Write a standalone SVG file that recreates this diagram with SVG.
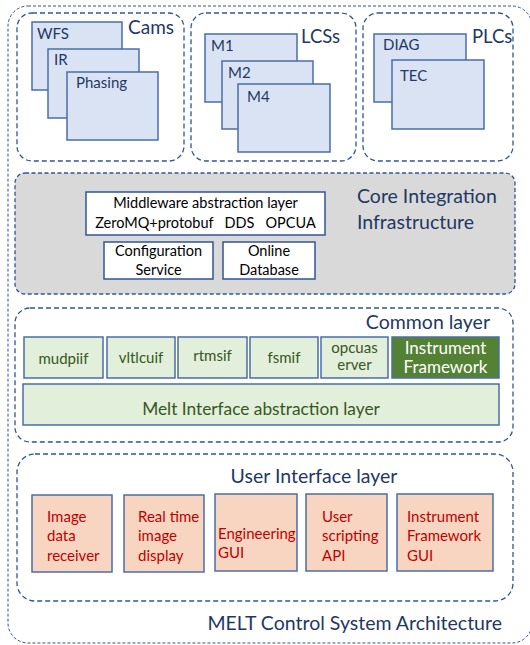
<svg xmlns="http://www.w3.org/2000/svg" width="530" height="645" viewBox="0 0 530 645">
<style>
text{font-family:Lato,"Open Sans","Liberation Sans",sans-serif}
.dash{fill:none;stroke:#2f5597;stroke-width:1.3;stroke-dasharray:5,3}
.thin{fill:none;stroke:#2f5597;stroke-width:1;stroke-dasharray:3,2}
.blue{fill:#dae3f3;stroke:#4a6ea9;stroke-width:1.5}
.wbox{fill:#fff;stroke:#2f5597;stroke-width:1.5}
.gbox{fill:#e2efda;stroke:#4a6ea9;stroke-width:1.5}
.dgbox{fill:#548235;stroke:#4a6ea9;stroke-width:1.5}
.obox{fill:#f8d5c0;stroke:#4a6ea9;stroke-width:1.5}
.t{fill:#1f3864}
.lbl{fill:#1f3864;font-size:19.5px}
.g{fill:#375623;font-size:15px;text-anchor:middle}
.w{fill:#fff;font-size:17px;text-anchor:middle}
.r{fill:#c00000;font-size:15px}
.k{fill:#000;font-size:14.5px;text-anchor:middle}
</style>
<rect id="outer" x="8" y="6" width="524" height="637" rx="20" class="thin"/>
<text x="502" y="630" class="lbl" text-anchor="end">MELT Control System Architecture</text>

<g id="cams">
<rect x="17" y="13" width="167" height="148" rx="15" class="dash"/>
<text x="128" y="34" class="t" font-size="19">Cams</text>
<g id="wfs"><rect x="32" y="22" width="90" height="68" class="blue"/><text x="37" y="39" class="t" font-size="15">WFS</text></g>
<g id="ir"><rect x="48" y="49" width="91" height="69" class="blue"/><text x="54" y="65" class="t" font-size="15">IR</text></g>
<g id="phasing"><rect x="67" y="72" width="91" height="68" class="blue"/><text x="76" y="88" class="t" font-size="15">Phasing</text></g>
</g>

<g id="lcss">
<rect x="191" y="13" width="165" height="148" rx="15" class="dash"/>
<text x="301" y="43" class="t" font-size="18.5">LCSs</text>
<g id="m1"><rect x="205" y="34" width="92" height="68" class="blue"/><text x="211" y="51" class="t" font-size="15">M1</text></g>
<g id="m2"><rect x="222" y="61" width="91" height="68" class="blue"/><text x="228" y="78" class="t" font-size="15">M2</text></g>
<g id="m4"><rect x="238" y="84" width="92" height="68" class="blue"/><text x="247" y="102" class="t" font-size="15">M4</text></g>
</g>

<g id="plcs">
<rect x="363" y="13" width="150" height="148" rx="15" class="dash"/>
<text x="472" y="43" class="t" font-size="18.5">PLCs</text>
<g id="diag"><rect x="374" y="34" width="92" height="68" class="blue"/><text x="383" y="50" class="t" font-size="15">DIAG</text></g>
<g id="tec"><rect x="392" y="60" width="92" height="69" class="blue"/><text x="400" y="81" class="t" font-size="15">TEC</text></g>
</g>

<g id="core">
<rect x="15" y="173" width="500" height="121" rx="10" fill="#d9d9d9" stroke="#2f5597" stroke-width="1.3" stroke-dasharray="4,2.5"/>
<text x="357" y="203" class="lbl">Core Integration</text>
<text x="357" y="229" class="lbl">Infrastructure</text>
<g id="middleware"><rect x="86" y="192" width="239" height="43" class="wbox"/>
<text x="205.5" y="208" class="k">Middleware abstraction layer</text>
<text x="205.5" y="228" class="k" xml:space="preserve">ZeroMQ+protobuf   DDS   OPCUA</text></g>
<g id="config"><rect x="104" y="242" width="109" height="37" class="wbox"/>
<text x="158.5" y="256" class="k">Configuration</text><text x="158.5" y="275" class="k">Service</text></g>
<g id="onlinedb"><rect x="223" y="242" width="92" height="37" class="wbox"/>
<text x="269" y="256" class="k">Online</text><text x="269" y="275" class="k">Database</text></g>
</g>

<g id="common">
<rect x="15" y="308" width="498" height="134" rx="15" class="dash"/>
<text x="490" y="329" class="lbl" text-anchor="end">Common layer</text>
<g id="mudpiif"><rect x="24" y="337" width="79" height="41" class="gbox"/><text x="63.5" y="364" class="g">mudpiif</text></g>
<g id="vltlcuif"><rect x="107" y="337" width="68" height="41" class="gbox"/><text x="141" y="363" class="g">vltlcuif</text></g>
<g id="rtmsif"><rect x="178" y="337" width="69" height="41" class="gbox"/><text x="212.5" y="361" class="g">rtmsif</text></g>
<g id="fsmif"><rect x="250" y="337" width="68" height="41" class="gbox"/><text x="284" y="363" class="g">fsmif</text></g>
<g id="opcuaserver"><rect x="321" y="337" width="67" height="41" class="gbox"/><text x="354.5" y="353" class="g">opcuas</text><text x="354.5" y="370" class="g">erver</text></g>
<g id="instfw"><rect x="392" y="337" width="107" height="41" class="dgbox"/><text x="445.5" y="354" class="w">Instrument</text><text x="445.5" y="373" class="w">Framework</text></g>
<g id="melt"><rect x="23" y="384" width="476" height="41" class="gbox"/><text x="261" y="415" class="g" style="font-size:17.3px">Melt Interface abstraction layer</text></g>
</g>

<g id="ui">
<rect x="17" y="454" width="496" height="147" rx="18" class="dash"/>
<text x="314" y="483" class="lbl" text-anchor="middle">User Interface layer</text>
<g id="imgrecv"><rect x="32" y="495" width="80" height="77" class="obox"/><text class="r"><tspan x="47" y="522">Image</tspan><tspan x="47" y="541">data</tspan><tspan x="47" y="561">receiver</tspan></text></g>
<g id="rtdisplay"><rect x="124" y="495" width="80" height="77" class="obox"/><text class="r"><tspan x="138" y="522">Real time</tspan><tspan x="138" y="541">image</tspan><tspan x="138" y="561">display</tspan></text></g>
<g id="enggui"><rect x="215" y="494" width="82" height="77" class="obox"/><text class="r"><tspan x="218" y="539">Engineering</tspan><tspan x="218" y="558">GUI</tspan></text></g>
<g id="scripting"><rect x="306" y="494" width="81" height="77" class="obox"/><text class="r"><tspan x="322" y="522">User</tspan><tspan x="322" y="541">scripting</tspan><tspan x="322" y="561">API</tspan></text></g>
<g id="ifgui"><rect x="397" y="494" width="96" height="77" class="obox"/><text class="r"><tspan x="407" y="522">Instrument</tspan><tspan x="407" y="541">Framework</tspan><tspan x="407" y="561">GUI</tspan></text></g>
</g>
<g id="connectors"/>
</svg>
